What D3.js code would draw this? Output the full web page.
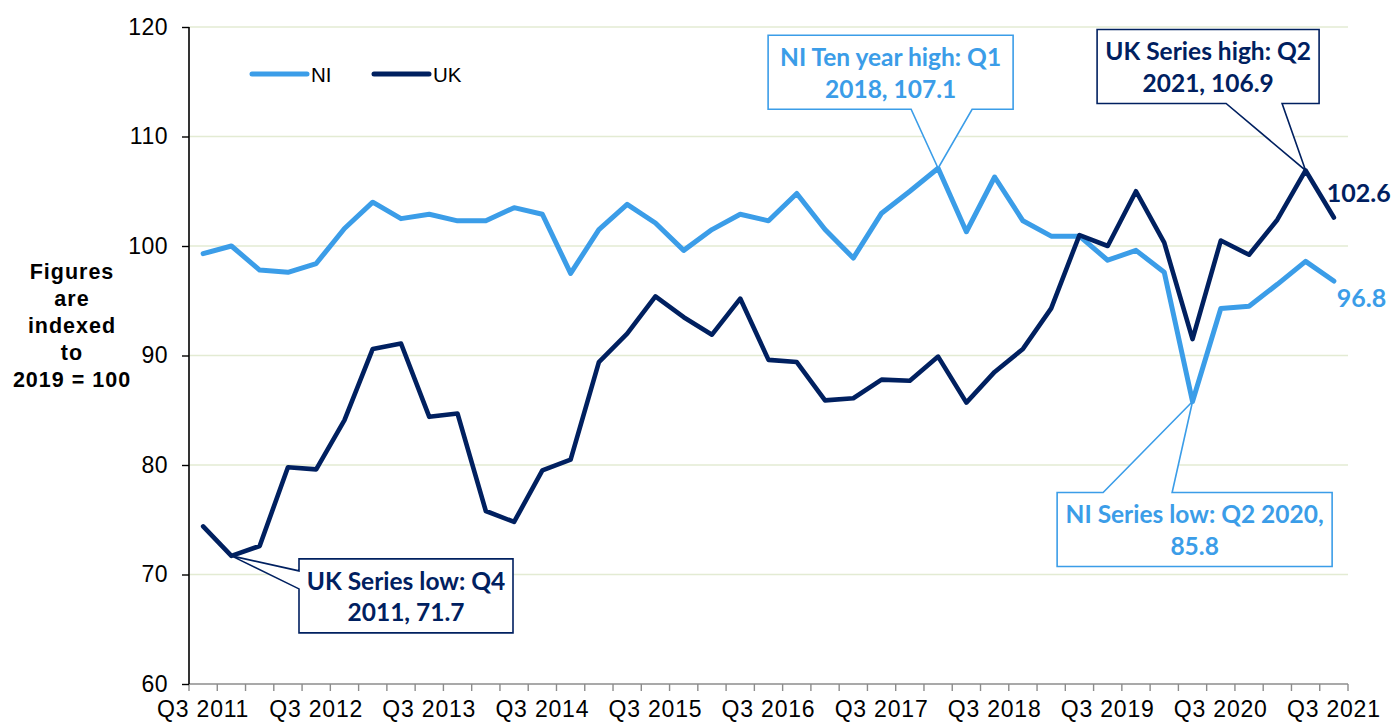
<!DOCTYPE html>
<html>
<head>
<meta charset="utf-8">
<title>NI and UK index, 2019 = 100</title>
<script src="https://cdn.jsdelivr.net/npm/d3@7"></script>
<style>
    body {
        margin: 0;
        background-color: #fff;
    }

    svg {
        display: block;
        font-family: "Liberation Sans", Arial, sans-serif;
    }

    .callout text, .endlabel {
        font-family: Lato, "Open Sans", sans-serif;
        font-weight: 700;
    }
</style>
</head>
<body>
<svg width="1392" height="722"></svg>
<script>
    var quarters = [
        "Q3 2011", "Q4 2011",
        "Q1 2012", "Q2 2012", "Q3 2012", "Q4 2012",
        "Q1 2013", "Q2 2013", "Q3 2013", "Q4 2013",
        "Q1 2014", "Q2 2014", "Q3 2014", "Q4 2014",
        "Q1 2015", "Q2 2015", "Q3 2015", "Q4 2015",
        "Q1 2016", "Q2 2016", "Q3 2016", "Q4 2016",
        "Q1 2017", "Q2 2017", "Q3 2017", "Q4 2017",
        "Q1 2018", "Q2 2018", "Q3 2018", "Q4 2018",
        "Q1 2019", "Q2 2019", "Q3 2019", "Q4 2019",
        "Q1 2020", "Q2 2020", "Q3 2020", "Q4 2020",
        "Q1 2021", "Q2 2021", "Q3 2021"
    ];

    var niValues = [
        99.3, 100.0,
        97.8, 97.6, 98.4, 101.6,
        104.0, 102.5, 102.9, 102.3,
        102.3, 103.5, 102.9, 97.5,
        101.5, 103.8, 102.1, 99.6,
        101.5, 102.9, 102.3, 104.8,
        101.5, 98.9, 103.0, 105.0,
        107.1, 101.3, 106.3, 102.3,
        100.9, 100.9, 98.7, 99.6,
        97.6, 85.8, 94.3, 94.5,
        96.5, 98.6, 96.8
    ];

    var ukValues = [
        74.4, 71.7,
        72.6, 79.8, 79.6, 84.1,
        90.6, 91.1, 84.4, 84.7,
        75.8, 74.8, 79.5, 80.5,
        89.4, 92.0, 95.4, 93.5,
        91.9, 95.2, 89.6, 89.4,
        85.9, 86.1, 87.8, 87.7,
        89.9, 85.7, 88.5, 90.6,
        94.3, 101.0, 100.0, 105.0,
        100.3, 91.5, 100.5, 99.2,
        102.4, 106.9, 102.6
    ];

    var yTicks = [60, 70, 80, 90, 100, 110, 120];
    var xLabels = ["Q3 2011", "Q3 2012", "Q3 2013", "Q3 2014", "Q3 2015", "Q3 2016",
        "Q3 2017", "Q3 2018", "Q3 2019", "Q3 2020", "Q3 2021"];
    var yTitle = ["Figures", "are", "indexed", "to", "2019 = 100"];

    var niColor = "#3b9de8",
        ukColor = "#002060";

    var svg = d3.select("svg");

    // plot area edges (note: "top" is taken by window.top)
    var plot = { left: 189, right: 1348, top: 27, bottom: 684 };

    var x = d3.scaleBand().domain(quarters).range([plot.left, plot.right]).paddingInner(0).paddingOuter(0);
    var y = d3.scaleLinear().domain([60, 120]).range([plot.bottom, plot.top]);

    function cx(q) { return x(q) + x.bandwidth() / 2; }

    // gridlines
    svg.append("g")
        .selectAll("line")
        .data(yTicks.filter(function (d) { return d > 60; }))
        .enter().append("line")
        .attr("x1", plot.left).attr("x2", plot.right)
        .attr("y1", y).attr("y2", y)
        .attr("stroke", "#e3ebd3")
        .attr("stroke-width", 1.4);

    // series
    var series = [
        { name: "NI", values: niValues, color: niColor, width: 5 },
        { name: "UK", values: ukValues, color: ukColor, width: 4.6 }
    ];

    var line = d3.line()
        .x(function (d, i) { return cx(quarters[i]); })
        .y(function (d) { return y(d); });

    svg.append("g")
        .selectAll("path")
        .data(series)
        .enter().append("path")
        .attr("d", function (d) { return line(d.values); })
        .attr("fill", "none")
        .attr("stroke", function (d) { return d.color; })
        .attr("stroke-width", function (d) { return d.width; })
        .attr("stroke-linejoin", "round")
        .attr("stroke-linecap", "round");

    // x axis: a tick at every category boundary, labels on Q3s
    var xAxis = svg.append("g").attr("transform", "translate(0," + plot.bottom + ")");
    xAxis.append("line")
        .attr("x1", plot.left).attr("x2", plot.right)
        .attr("stroke", "#8c8c8c").attr("stroke-width", 1.6);
    xAxis.selectAll(".tk")
        .data(quarters.concat(["end"]))
        .enter().append("line")
        .attr("class", "tk")
        .attr("x1", function (d) { return d == "end" ? plot.right : x(d); })
        .attr("x2", function (d) { return d == "end" ? plot.right : x(d); })
        .attr("y1", 0).attr("y2", 7)
        .attr("stroke", "#8c8c8c").attr("stroke-width", 1.4);
    xAxis.selectAll("text")
        .data(xLabels)
        .enter().append("text")
        .attr("x", cx)
        .attr("y", 32.5)
        .attr("text-anchor", "middle")
        .attr("font-size", 23)
        .attr("letter-spacing", 0.8)
        .attr("fill", "#000")
        .text(function (d) { return d; });

    // y axis
    var yAxis = svg.append("g")
        .attr("transform", "translate(" + plot.left + ",0)")
        .call(d3.axisLeft(y).tickValues(yTicks).tickSize(7).tickPadding(14).tickFormat(d3.format("d")));
    yAxis.select(".domain").attr("stroke", "#000").attr("stroke-width", 1.6)
        .attr("d", "M0," + plot.bottom + "V" + plot.top);
    yAxis.selectAll(".tick line").attr("stroke", "#000").attr("stroke-width", 1.4);
    yAxis.selectAll(".tick text")
        .attr("font-family", "'Liberation Sans', Arial, sans-serif")
        .attr("font-size", 23)
        .attr("letter-spacing", 0.5)
        .attr("fill", "#000");

    // y title
    svg.append("text")
        .attr("text-anchor", "middle")
        .attr("font-weight", 700)
        .attr("font-size", 21.5)
        .attr("letter-spacing", 1)
        .selectAll("tspan")
        .data(yTitle)
        .enter().append("tspan")
        .attr("x", 72)
        .attr("y", function (d, i) { return 279 + i * 27; })
        .text(function (d) { return d; });

    // legend
    var legend = svg.append("g")
        .selectAll("g")
        .data(series)
        .enter().append("g")
        .attr("transform", function (d, i) { return "translate(" + (252 + i * 122) + ",74)"; });
    legend.append("line")
        .attr("x1", 0).attr("x2", 55)
        .attr("stroke", function (d) { return d.color; })
        .attr("stroke-width", 5)
        .attr("stroke-linecap", "round");
    legend.append("text")
        .attr("x", 59)
        .attr("y", 7.5)
        .attr("font-size", 20.5)
        .text(function (d) { return d.name; });

    // callouts (box offsets are relative to the data point they point at)
    var callouts = [
        { values: niValues, q: "Q1 2018", color: niColor, lines: ["NI Ten year high: Q1", "2018, 107.1"],
          dx: -170, dy: -133, w: 245, h: 74, side: "bottom", a: 143, b: 204 },
        { values: ukValues, q: "Q2 2021", color: ukColor, lines: ["UK Series high: Q2", "2021, 106.9"],
          dx: -208.5, dy: -141, w: 222, h: 74, side: "bottom", a: 129, b: 185 },
        { values: niValues, q: "Q2 2020", color: niColor, lines: ["NI Series low: Q2 2020,", "85.8"],
          dx: -135.4, dy: 91, w: 275, h: 74, side: "top", a: 46, b: 115 },
        { values: ukValues, q: "Q4 2011", color: ukColor, lines: ["UK Series low: Q4", "2011, 71.7"],
          dx: 67.6, dy: 3, w: 214, h: 74, side: "left", a: 12, b: 30 }
    ];

    function tipOf(c) {
        return [cx(c.q), y(c.values[quarters.indexOf(c.q)])];
    }

    function calloutPath(c) {
        var t = tipOf(c), tx = t[0], ty = t[1];
        var x0 = tx + c.dx, y0 = ty + c.dy, w = c.w, h = c.h;
        var p = d3.path();
        if (c.side == "top") {
            p.moveTo(x0, y0);
            p.lineTo(x0 + c.a, y0);
            p.lineTo(tx, ty);
            p.lineTo(x0 + c.b, y0);
            p.lineTo(x0 + w, y0);
            p.lineTo(x0 + w, y0 + h);
            p.lineTo(x0, y0 + h);
        } else if (c.side == "bottom") {
            p.moveTo(x0, y0);
            p.lineTo(x0 + w, y0);
            p.lineTo(x0 + w, y0 + h);
            p.lineTo(x0 + c.b, y0 + h);
            p.lineTo(tx, ty);
            p.lineTo(x0 + c.a, y0 + h);
            p.lineTo(x0, y0 + h);
        } else {
            p.moveTo(x0, y0);
            p.lineTo(x0 + w, y0);
            p.lineTo(x0 + w, y0 + h);
            p.lineTo(x0, y0 + h);
            p.lineTo(x0, y0 + c.b);
            p.lineTo(tx, ty);
            p.lineTo(x0, y0 + c.a);
        }
        p.closePath();
        return p.toString();
    }

    var callout = svg.append("g")
        .selectAll("g")
        .data(callouts)
        .enter().append("g")
        .attr("class", "callout");
    callout.append("path")
        .attr("d", calloutPath)
        .attr("fill", "#fff")
        .attr("stroke", function (d) { return d.color; })
        .attr("stroke-width", 1.6)
        .attr("stroke-linejoin", "miter");
    callout.append("text")
        .attr("text-anchor", "middle")
        .attr("font-size", 24.5)
        .attr("fill", function (d) { return d.color; })
        .each(function (d) {
            var t = tipOf(d);
            d3.select(this).selectAll("tspan")
                .data(d.lines)
                .enter().append("tspan")
                .attr("x", t[0] + d.dx + d.w / 2)
                .attr("y", function (s, i) { return t[1] + d.dy + 31 + i * 31.5; })
                .text(function (s) { return s; });
        });

    // end-of-series labels
    var last = quarters[quarters.length - 1];
    svg.append("text")
        .attr("class", "endlabel")
        .attr("x", cx(last) - 7)
        .attr("y", y(ukValues[ukValues.length - 1]) - 16)
        .attr("font-size", 25)
        .attr("fill", ukColor)
        .text(d3.format(".1f")(ukValues[ukValues.length - 1]));
    svg.append("text")
        .attr("class", "endlabel")
        .attr("x", cx(last) + 3)
        .attr("y", y(niValues[niValues.length - 1]) + 26)
        .attr("font-size", 25)
        .attr("fill", niColor)
        .text(d3.format(".1f")(niValues[niValues.length - 1]));
</script>
</body>
</html>
